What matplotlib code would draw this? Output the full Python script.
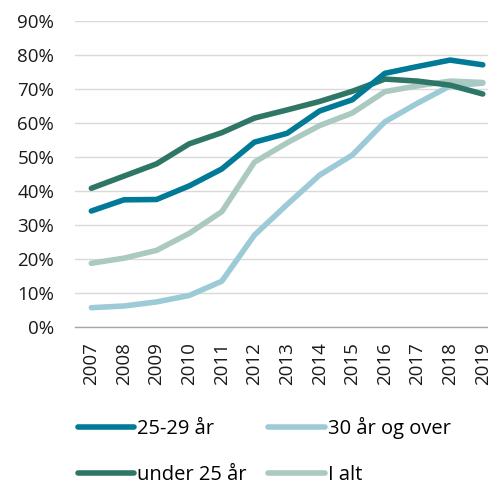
import matplotlib
matplotlib.use("Agg")
import matplotlib.pyplot as plt
from matplotlib.ticker import PercentFormatter

years = [str(y) for y in range(2007, 2020)]

age_25_29 = [34.1, 37.4, 37.5, 41.5, 46.5, 54.4, 57.0, 63.6, 66.9, 74.7, 76.7, 78.6, 77.2]
under_25 = [40.8, 44.4, 48.0, 53.9, 57.2, 61.5, 63.9, 66.4, 69.4, 73.0, 72.4, 71.2, 68.6]
over_30 = [5.6, 6.1, 7.3, 9.2, 13.4, 27.0, 36.0, 44.7, 50.6, 60.4, 65.9, 71.0, 71.8]
total = [18.7, 20.2, 22.5, 27.5, 33.9, 48.5, 54.2, 59.3, 63.0, 69.3, 71.0, 72.4, 72.0]

series_names = ["25-29 år", "under 25 år", "30 år og over", "I alt"]
colors = ["#007a96", "#2e7766", "#9ccbd7", "#aac9c1"]

plt.rcParams['font.family'] = ['Open Sans', 'DejaVu Sans']

fig = plt.figure(figsize=(4.88, 4.8), dpi=100)
ax = fig.add_axes([0.1537, 0.3194, 0.869, 0.636])

x = range(len(years))
lines = {}
for name, vals, c in [("30 år og over", over_30, colors[2]),
                      ("I alt", total, colors[3]),
                      ("under 25 år", under_25, colors[1]),
                      ("25-29 år", age_25_29, colors[0])]:
    ln, = ax.plot(x, vals, color=c, lw=4.0, solid_capstyle='round', solid_joinstyle='round', label=name)
    lines[name] = ln

ax.set_xlim(-0.5, len(years) - 0.5)
ax.set_ylim(0, 90)
ax.set_yticks(range(0, 91, 10))
ax.yaxis.set_major_formatter(PercentFormatter(decimals=0))
ax.set_xticks(list(x))
ax.set_xticklabels(years, rotation=90)

ax.grid(axis='y', color='#d9d9d9', lw=1)
ax.set_axisbelow(True)
for s in ['top', 'right', 'left']:
    ax.spines[s].set_visible(False)
ax.spines['bottom'].set_color('#a6a6a6')
ax.spines['bottom'].set_linewidth(1)
ax.tick_params(axis='both', length=0, labelsize=13.5, colors='#1a1a1a')
ax.tick_params(axis='y', pad=15)
ax.tick_params(axis='x', pad=11)

handles = [lines[n] for n in series_names]
fig.legend(handles, series_names, loc='upper left', bbox_to_anchor=(0.16, 0.132),
           ncol=2, frameon=False, fontsize=14.5, handlelength=2.8, handletextpad=0.15,
           columnspacing=1.05, labelspacing=1.3, borderaxespad=0, borderpad=0)

fig.savefig("out.png", dpi=100)
